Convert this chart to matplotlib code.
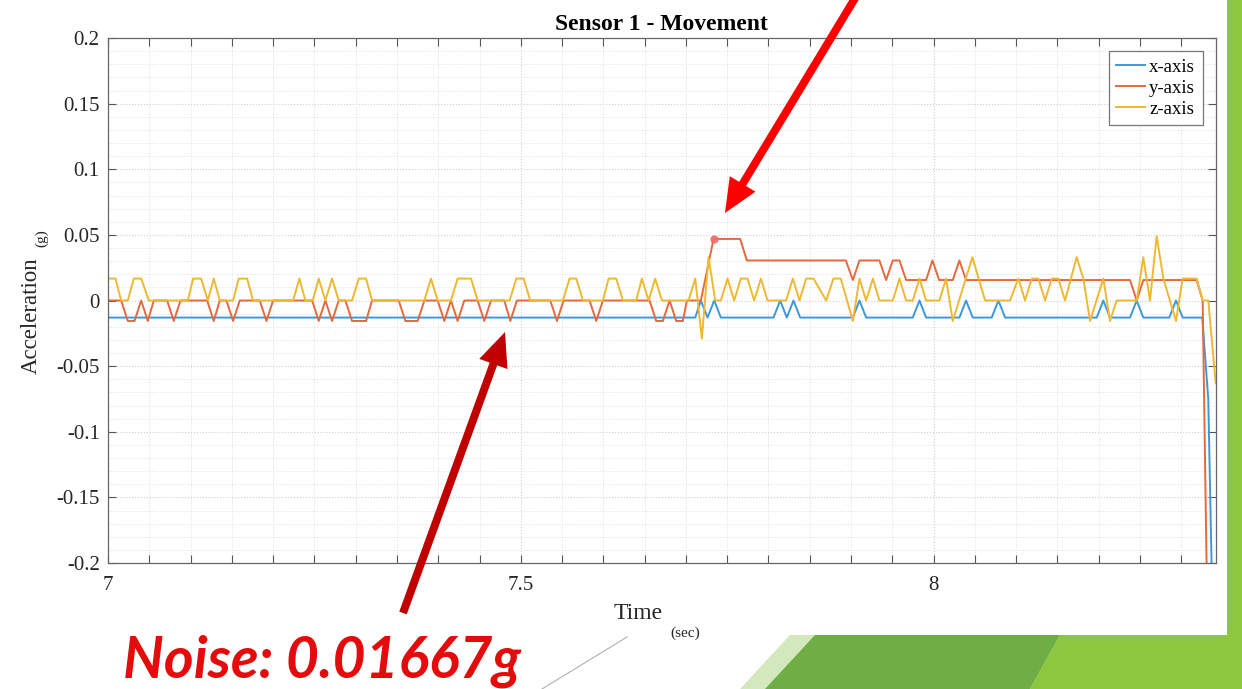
import numpy as np
import matplotlib.pyplot as plt
from matplotlib.patches import Polygon, Rectangle, FancyArrow
from matplotlib.ticker import MultipleLocator, FuncFormatter

# ---- datos (tiempo en s, aceleracion en g) ----
t_x = [7.0, 7.7113, 7.7181, 7.7262, 7.7343, 7.7423, 7.8061, 7.8142, 7.8222, 7.8303,
       7.8384, 7.9022, 7.9102, 7.9183, 7.9748, 7.9829, 7.9909, 8.0313, 8.0393, 8.0474,
       8.0704, 8.0785, 8.0866, 8.1976, 8.2056, 8.2137, 8.2379, 8.2460, 8.2540, 8.2855,
       8.2936, 8.3017, 8.3254, 8.3327, 8.3405]
a_x = [-0.013, -0.013, 0.0, -0.013, 0.0, -0.013, -0.013, 0.0, -0.013, 0.0,
       -0.013, -0.013, 0.0, -0.013, -0.013, 0.0, -0.013, -0.013, 0.0, -0.013,
       -0.013, 0.0, -0.013, -0.013, 0.0, -0.013, -0.013, 0.0, -0.013, -0.013,
       0.0, -0.013, -0.013, -0.075, -0.32]

t_y = [7.0, 7.0159, 7.0240, 7.0321, 7.0402, 7.0482, 7.0555, 7.0716, 7.0797, 7.0878,
       7.1201, 7.1281, 7.1354, 7.1434, 7.1515, 7.1596, 7.1838, 7.1919, 7.2000, 7.2472,
       7.2552, 7.2633, 7.2714, 7.2795, 7.2875, 7.2956, 7.3126, 7.3198, 7.3521, 7.3602,
       7.3751, 7.3832, 7.3993, 7.4074, 7.4154, 7.4235, 7.4316, 7.4477, 7.4558, 7.4639,
       7.4800, 7.4873, 7.4953, 7.5357, 7.5438, 7.5518, 7.5833, 7.5914, 7.5995, 7.6560,
       7.6640, 7.6721, 7.6802, 7.6882, 7.6963, 7.7012, 7.7181, 7.7335, 7.7657, 7.7738,
       7.8937, 7.9022, 7.9102, 7.9344, 7.9425, 7.9506, 7.9587, 7.9667, 7.9909, 7.9986,
       8.0067, 8.0232, 8.0313, 8.0393, 8.2379, 8.2460, 8.2540, 8.3186, 8.3259, 8.3337]
a_y = [0.0, 0.0, -0.0156, -0.0156, 0.0, -0.0156, 0.0, 0.0, -0.0156, 0.0,
       0.0, -0.0156, 0.0, 0.0, -0.0156, 0.0, 0.0, -0.0156, 0.0, 0.0,
       -0.0156, 0.0, -0.0156, 0.0, 0.0, -0.0156, -0.0156, 0.0, 0.0, -0.0156,
       -0.0156, 0.0, 0.0, -0.0156, 0.0, -0.0156, 0.0, 0.0, -0.0156, 0.0,
       0.0, -0.0156, 0.0, 0.0, -0.0156, 0.0, 0.0, -0.0156, 0.0, 0.0,
       -0.0156, -0.0156, 0.0, -0.0156, -0.0156, 0.0, 0.0, 0.0469, 0.0469, 0.0305,
       0.0305, 0.0156, 0.0305, 0.0305, 0.0156, 0.0305, 0.0305, 0.0156, 0.0156, 0.0305,
       0.0156, 0.0156, 0.0305, 0.0156, 0.0156, 0.0, 0.0156, 0.0156, 0.0, -0.33]

t_z = [7.0, 7.0091, 7.0159, 7.0240, 7.0313, 7.0402, 7.0494, 7.0967, 7.1031, 7.1128,
       7.1209, 7.1281, 7.1354, 7.1515, 7.1584, 7.1685, 7.1757, 7.2242, 7.2318, 7.2391,
       7.2480, 7.2552, 7.2633, 7.2714, 7.2795, 7.2956, 7.3037, 7.3126, 7.3198, 7.3832,
       7.3912, 7.3993, 7.4154, 7.4235, 7.4397, 7.4477, 7.4865, 7.4945, 7.5034, 7.5115,
       7.5510, 7.5591, 7.5672, 7.5753, 7.5995, 7.6063, 7.6156, 7.6237, 7.6398, 7.6467,
       7.6548, 7.6628, 7.6709, 7.7032, 7.7113, 7.7193, 7.7274, 7.7355, 7.7423, 7.7504,
       7.7585, 7.7665, 7.7746, 7.7827, 7.7908, 7.7988, 7.8214, 7.8295, 7.8376, 7.8456,
       7.8545, 7.8699, 7.8787, 7.8876, 7.9022, 7.9102, 7.9183, 7.9264, 7.9344, 7.9506,
       7.9587, 7.9667, 7.9748, 7.9829, 7.9909, 8.0071, 8.0151, 8.0232, 8.0470, 8.0624,
       8.0926, 8.1027, 8.1108, 8.1189, 8.1269, 8.1350, 8.1431, 8.1511, 8.1592, 8.1733,
       8.1814, 8.1895, 8.2056, 8.2137, 8.2218, 8.2460, 8.2540, 8.2621, 8.2702, 8.2783,
       8.2936, 8.3017, 8.3186, 8.3259, 8.3327, 8.3417]
a_z = [0.0167, 0.0167, 0.0, 0.0, 0.0167, 0.0167, 0.0, 0.0, 0.0167, 0.0167,
       0.0, 0.0167, 0.0, 0.0, 0.0167, 0.0167, 0.0, 0.0, 0.0167, 0.0,
       0.0, 0.0167, 0.0, 0.0167, 0.0, 0.0, 0.0167, 0.0167, 0.0, 0.0,
       0.0167, 0.0, 0.0, 0.0167, 0.0167, 0.0, 0.0, 0.0167, 0.0167, 0.0,
       0.0, 0.0167, 0.0167, 0.0, 0.0, 0.0167, 0.0167, 0.0, 0.0, 0.0167,
       0.0, 0.0167, 0.0, 0.0, 0.0167, -0.029, 0.033, 0.0, 0.0, 0.0167,
       0.0, 0.0167, 0.0167, 0.0, 0.0167, 0.0, 0.0, 0.0167, 0.0, 0.0167,
       0.0167, 0.0, 0.0167, 0.0167, -0.0156, 0.0167, 0.0, 0.0167, 0.0, 0.0,
       0.0167, 0.0, 0.0, 0.0167, 0.0, 0.0, 0.0167, -0.0156, 0.033, 0.0,
       0.0, 0.0167, 0.0, 0.0167, 0.0167, 0.0, 0.0167, 0.0167, 0.0, 0.033,
       0.0167, -0.0156, 0.0167, -0.0156, 0.0, 0.0, 0.033, 0.0, 0.049, 0.0167,
       -0.0156, 0.0167, 0.0167, 0.0, 0.0, -0.063]

labels = ['x-axis', 'y-axis', 'z-axis']
colores = ['#3D98D8', '#E4693C', '#EFB832']

W, H = 1242, 689
plt.rcParams['font.family'] = ['Liberation Serif', 'DejaVu Serif']

fig = plt.figure(figsize=(W / 100, H / 100), dpi=100)
fig.patch.set_facecolor('white')

ax = fig.add_axes([108 / W, 1 - 563 / H, 1107.7 / W, 525 / H])
for t, a, lab, c in zip([t_x, t_y, t_z], [a_x, a_y, a_z], labels, colores):
    ax.plot(t, a, color=c, lw=1.4, label=lab)

# data tip sobre el pico de y
i = int(np.argmax(a_y))
ax.plot(t_y[i], a_y[i], 'o', ms=5, color='#F26A6A', alpha=0.85, zorder=5)

ax.set_xlim(7, 8.3417)
ax.set_ylim(-0.2, 0.2)
ax.xaxis.set_major_locator(MultipleLocator(0.5))
ax.xaxis.set_minor_locator(MultipleLocator(0.05))
ax.yaxis.set_major_locator(MultipleLocator(0.05))
ax.yaxis.set_minor_locator(MultipleLocator(0.01))
fmt = FuncFormatter(lambda v, p: ('%g' % round(v, 3)))
ax.xaxis.set_major_formatter(fmt)
ax.yaxis.set_major_formatter(fmt)

ax.tick_params(which='both', direction='in', top=True, right=True,
               color='#555555', width=0.8, labelcolor='#262626', labelsize=15)
ax.tick_params(axis='x', which='both', length=6, pad=9)
ax.tick_params(axis='y', which='major', length=6, pad=6)
ax.tick_params(axis='y', which='minor', length=0)
for s in ax.spines.values():
    s.set_color('#666666')
    s.set_linewidth(0.9)

ax.grid(True, which='major', color='#cfcfcf', lw=0.8, ls=':')
ax.grid(True, which='minor', color='#e0e0e0', lw=0.7, ls=':')
ax.set_axisbelow(True)

ax.set_title('Sensor 1 - Movement', fontweight='bold', fontsize=17, pad=6)

leg = ax.legend(loc='upper right', fontsize=13.5, fancybox=False, framealpha=1,
                edgecolor='#777777', handlelength=1.5, handletextpad=0.25,
                labelspacing=0.2, borderpad=0.4, borderaxespad=0.7)
leg.get_frame().set_linewidth(0.9)

# etiquetas de ejes con subindice
fig.text(614 / W, 1 - 619 / H, 'Time', fontsize=17, color='#262626', va='baseline')
fig.text(670 / W, 1 - 637 / H, '(sec)', fontsize=11, color='#262626', va='baseline')
fig.text(31 / W, 1 - 316 / H, 'Acceleration', fontsize=16.5, color='#262626',
         rotation=90, ha='center', va='center')
fig.text(42 / W, 1 - 238 / H, '(g)', fontsize=11, color='#262626',
         rotation=90, ha='center', va='center')

# capa de la diapositiva: flechas, texto y decoracion verde
ov = fig.add_axes([0, 0, 1, 1], zorder=10)
ov.set_xlim(0, W)
ov.set_ylim(H, 0)
ov.axis('off')
ov.patch.set_alpha(0)

ov.add_patch(Rectangle((1227, 0), 15, 689, color='#8DC63F', lw=0))
ov.add_patch(Polygon([(790, 635), (1242, 635), (1242, 689), (740, 689)],
                     closed=True, color='#D4E8BE', lw=0))
ov.add_patch(Polygon([(815, 635), (1060, 635), (1030, 689), (765, 689)],
                     closed=True, color='#6FAE45', lw=0))
ov.add_patch(Polygon([(1060, 635), (1242, 635), (1242, 689), (1030, 689)],
                     closed=True, color='#8DC63F', lw=0))
ov.plot([627, 542], [637, 689], color='#b0b0b0', lw=0.8)

ov.add_patch(FancyArrow(857, -5, 725 - 857, 213 + 5, width=8, head_width=30,
                        head_length=34, length_includes_head=True,
                        color='#FF0000', lw=0))
ov.add_patch(FancyArrow(403, 613, 505 - 403, 332 - 613, width=8, head_width=30,
                        head_length=34, length_includes_head=True,
                        color='#C00000', lw=0))

ov.text(123, 677, 'Noise: 0.01667g', fontsize=41, color='#E30B0B',
        family=['Lato', 'DejaVu Sans'], fontweight='bold', fontstyle='italic',
        va='baseline')

fig.savefig('out.png', dpi=100)
